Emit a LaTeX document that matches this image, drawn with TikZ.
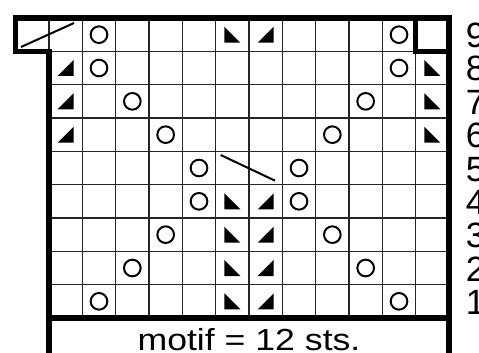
\documentclass[tikz,border=0pt]{standalone}
\usepackage{fontspec}
\setmainfont{Liberation Sans}
\usetikzlibrary{calc}

\begin{document}
\begin{tikzpicture}[
    gridline/.style={line width=0.9pt, black!85},
    border/.style={line width=4.3pt, line join=miter},
    yarnover/.style={circle, draw, line width=1.7pt, minimum size=0.5cm, inner sep=0pt},
    cable/.style={line width=1.7pt},
    rownum/.style={anchor=base west, inner sep=0pt, font=\fontsize{30}{30}\selectfont}]
  \useasboundingbox (-1.47,-1.02) rectangle (12.9,9.54);

  % thin grid
  \foreach \x in {1,...,11} \draw[gridline] (\x,0) -- (\x,8);
  \foreach \x in {0,...,11} \draw[gridline] (\x,8) -- (\x,9);
  \foreach \y in {1,...,8} \draw[gridline] (0,\y) -- (12,\y);

  % yarn overs
  \foreach \c/\r in {2/9,11/9,2/8,11/8,3/7,10/7,4/6,9/6,5/5,8/5,5/4,8/4,4/3,9/3,3/2,10/2,2/1,11/1}
    \node[yarnover] (yo-\c-\r) at (\c-0.5,\r-0.5) {};

  % left-leaning decreases
  \foreach \c/\r in {6/9,12/8,12/7,12/6,6/4,6/3,6/2,6/1}
    \fill[shift={(\c-0.5,\r-0.5)}] (-0.24,0.24) -- (-0.24,-0.24) -- (0.24,-0.24) -- cycle;
  % right-leaning decreases
  \foreach \c/\r in {7/9,1/8,1/7,1/6,7/4,7/3,7/2,7/1}
    \fill[shift={(\c-0.5,\r-0.5)}] (0.24,0.24) -- (0.24,-0.24) -- (-0.24,-0.24) -- cycle;

  % cables
  \coordinate (cbl9a) at (-0.84,8.13);
  \coordinate (cbl9b) at (0.75,8.85);
  \draw[cable] (cbl9a) -- (cbl9b);
  \coordinate (cbl5a) at (5.15,4.89);
  \coordinate (cbl5b) at (6.78,4.12);
  \draw[cable] (cbl5a) -- (cbl5b);

  % outline
  \draw[border] (0,-1.3) -- (0,8) -- (-1,8) -- (-1,9) -- (12,9) -- (12,-1.3);
  \draw[border] (11,9) -- (11,8) -- (12,8);
  \draw[border] (0,0) -- (12,0);

  % motif
  \node[anchor=base, inner sep=0pt, font=\fontsize{26}{26}\selectfont] (motif) at (6,-0.96)
    {\scalebox{1.17}[1]{motif = 12 sts.}};

  % row numbers
  \foreach \r in {1,...,9}
    \node[rownum] (row\r) at (12.5,\r-0.89) {\r};
\end{tikzpicture}
\end{document}
